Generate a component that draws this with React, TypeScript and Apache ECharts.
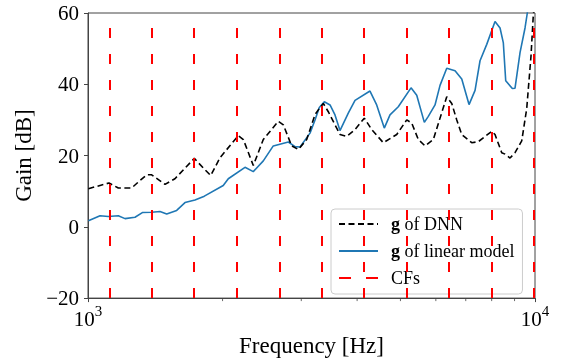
import React, { useEffect, useRef } from "react";
import * as echarts from "echarts";

// Gain of the DNN (dashed black)
const dnnFreq = [1002, 1114, 1169, 1252, 1294, 1353, 1388, 1487, 1565, 1729, 1821, 1882, 1974, 2169, 2226, 2343, 2467, 2665, 2735, 2856, 2955, 3085, 3220, 3292, 3361, 3448, 3662, 3791, 3957, 4151, 4312, 4577, 4905, 5165, 5299, 5483, 5675, 5923, 6131, 6347, 6513, 6683, 6857, 7219, 7469, 8002, 8139, 8425, 8570, 8793, 9022, 9339, 9583, 9796, 9913, 10000];
const dnnGain = [10.7, 12.3, 10.9, 10.9, 12.5, 14.6, 14.6, 11.9, 13.5, 19.2, 16.2, 14.4, 19.4, 25.6, 24.5, 17.2, 24.5, 29.6, 28.6, 22.7, 21.7, 24.5, 31.5, 33.2, 34.6, 32.3, 25.9, 25.4, 27.3, 30.5, 27.3, 23.6, 25.9, 30.0, 29.1, 24.5, 22.7, 24.5, 30.5, 36.5, 34.6, 30.0, 25.9, 23.6, 23.9, 26.8, 25.9, 20.8, 20.4, 19.3, 20.8, 24.1, 33.2, 47.9, 59.4, 63];

// Gain of the linear model (solid blue)
const linFreq = [1002, 1064, 1110, 1169, 1210, 1274, 1323, 1388, 1449, 1500, 1579, 1648, 1735, 1821, 2007, 2060, 2245, 2343, 2467, 2597, 2807, 2905, 2981, 3138, 3220, 3292, 3378, 3479, 3569, 3662, 3822, 3957, 4274, 4424, 4601, 4738, 4945, 5280, 5438, 5655, 5772, 5975, 6131, 6347, 6624, 6857, 7119, 7343, 7534, 7799, 8139, 8352, 8495, 8600, 8898, 9022, 9258, 9499, 9612, 9747];
const linGain = [1.7, 3.1, 2.9, 3.1, 2.3, 2.7, 4.0, 4.1, 4.3, 3.6, 4.6, 6.8, 7.5, 8.6, 11.6, 13.5, 16.7, 15.5, 18.5, 22.7, 23.8, 22.5, 22.4, 26.3, 30.0, 33.5, 35.1, 34.2, 31.4, 27.0, 31.9, 35.5, 38.1, 34.2, 27.7, 31.4, 33.7, 39.0, 36.9, 29.3, 31.0, 34.2, 39.7, 44.5, 43.8, 41.5, 34.3, 38.3, 46.6, 51.2, 57.6, 55.8, 51.6, 41.0, 38.8, 38.9, 48.9, 55.8, 60.0, 68];

// Centre frequencies of the filterbank (red dashed verticals)
const cfFreq = [1116, 1391, 1726, 2151, 2679, 3333, 4143, 5164, 6420, 8000, 9950];

// Minor ticks of the log frequency axis
const minorTickFreq = [2000, 3000, 4000, 5000, 6000, 7000, 8000, 9000];

const yMin = -20;
const yMax = 60;
const yStep = 20;

const FONT = "Liberation Serif";
const AXIS_COLOR = "#444";

export default function App() {
  const ref = useRef<HTMLDivElement>(null);

  useEffect(() => {
    if (!ref.current) return;
    const chart = echarts.init(ref.current, undefined, { renderer: "svg" });

    const legendFormatter = (name: string) =>
      name.startsWith("g ") ? `{g|g}{t|${name.slice(1)}}` : `{t|${name}}`;

    chart.setOption({
      animation: false,
      grid: {
        left: 88,
        right: 26,
        top: 13,
        bottom: 59,
        show: true,
        borderColor: AXIS_COLOR,
        borderWidth: 1,
      },
      xAxis: {
        type: "log",
        logBase: 10,
        min: 1000,
        max: 10000,
        name: "Frequency [Hz]",
        nameLocation: "middle",
        nameGap: 32,
        nameTextStyle: { fontFamily: FONT, fontSize: 23, color: "#000" },
        axisLine: { onZero: false, lineStyle: { color: AXIS_COLOR, width: 1 } },
        axisTick: { show: true, length: 4, lineStyle: { color: AXIS_COLOR } },
        splitLine: { show: false },
        axisLabel: {
          margin: 5,
          color: "#000",
          fontFamily: FONT,
          formatter: (v: number) => `{m|10}{e|${Math.round(Math.log10(v))}}`,
          rich: {
            m: { fontFamily: FONT, fontSize: 21, color: "#000", padding: [5, 0, 0, 0] },
            e: { fontFamily: FONT, fontSize: 15, color: "#000", verticalAlign: "top" },
          },
        },
      },
      yAxis: {
        type: "value",
        min: yMin,
        max: yMax,
        interval: yStep,
        name: "Gain [dB]",
        nameLocation: "middle",
        nameGap: 52,
        nameRotate: 90,
        nameTextStyle: { fontFamily: FONT, fontSize: 23, color: "#000" },
        axisLine: { show: true, onZero: false, lineStyle: { color: AXIS_COLOR, width: 1 } },
        axisTick: { show: true, length: 4, lineStyle: { color: AXIS_COLOR } },
        splitLine: { show: false },
        axisLabel: {
          margin: 9,
          color: "#000",
          fontFamily: FONT,
          fontSize: 21,
          formatter: (v: number) => (v < 0 ? "\u2212" + Math.abs(v) : String(v)),
        },
      },
      legend: {
        orient: "vertical",
        left: 331,
        top: 209,
        padding: [6, 8, 7, 7],
        itemWidth: 39,
        itemHeight: 14,
        itemGap: 9,
        backgroundColor: "rgba(255,255,255,0.8)",
        borderColor: "#cccccc",
        borderWidth: 1,
        borderRadius: 4,
        itemStyle: { opacity: 0 },
        data: ["g of DNN", "g of linear model", "CFs"],
        formatter: legendFormatter,
        textStyle: {
          fontFamily: FONT,
          fontSize: 18,
          color: "#000",
          padding: [0, 0, 0, 8],
          rich: {
            g: { fontFamily: FONT, fontSize: 18, fontWeight: "bold", color: "#000" },
            t: { fontFamily: FONT, fontSize: 18, color: "#000" },
          },
        },
      },
      series: [
        {
          name: "CFs",
          type: "line",
          data: [],
          showSymbol: false,
          symbol: "none",
          color: "#ff0000",
          lineStyle: { color: "#ff0000", width: 2, type: [12, 15] },
          markLine: {
            silent: true,
            symbol: ["none", "none"],
            label: { show: false },
            lineStyle: { color: "#ff0000", width: 2, type: [10, 16] },
            data: cfFreq.map((f) => [{ coord: [f, yMin] }, { coord: [f, yMax] }]),
          },
          z: 1,
        },
        {
          name: "g of DNN",
          type: "line",
          data: dnnFreq.map((f, i) => [f, dnnGain[i]]),
          showSymbol: false,
          symbol: "none",
          color: "#000000",
          lineStyle: { color: "#000000", width: 1.6, type: [6, 3.5] },
          clip: true,
          z: 3,
        },
        {
          name: "g of linear model",
          type: "line",
          data: linFreq.map((f, i) => [f, linGain[i]]),
          showSymbol: false,
          symbol: "none",
          color: "#1f77b4",
          lineStyle: { color: "#1f77b4", width: 1.6 },
          clip: true,
          z: 2,
        },
        {
          name: "minor ticks",
          type: "custom",
          silent: true,
          data: minorTickFreq.map((f) => [f, yMin]),
          encode: { x: 0, y: 1 },
          renderItem: (_params: any, api: any) => {
            const p = api.coord([api.value(0), api.value(1)]);
            return {
              type: "line",
              shape: { x1: p[0], y1: p[1], x2: p[0], y2: p[1] + 3 },
              style: { stroke: AXIS_COLOR, lineWidth: 0.8 },
            };
          },
        },
      ],
    });

    return () => chart.dispose();
  }, []);

  return (
    <div
      ref={ref}
      style={{ position: "fixed", left: 0, top: 0, width: 561, height: 362 }}
    />
  );
}
